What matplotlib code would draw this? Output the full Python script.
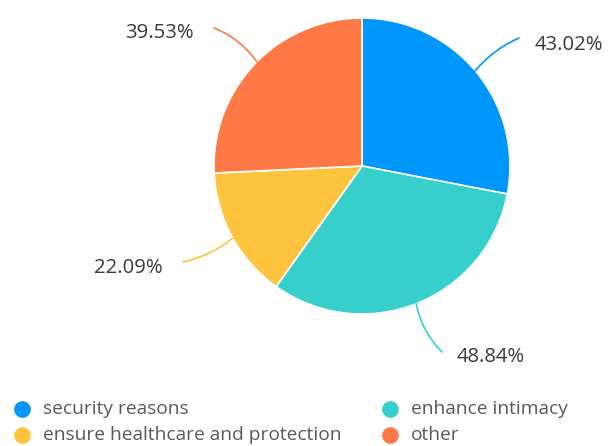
import matplotlib
matplotlib.use("Agg")
import matplotlib.pyplot as plt

categories = ["security reasons", "enhance intimacy", "ensure healthcare and protection", "other"]
values = [43.02, 48.84, 22.09, 39.53]
labels = ["43.02%", "48.84%", "22.09%", "39.53%"]
colors = ["#0096FF", "#36CFCB", "#FFC43D", "#FF7946"]

W, H = 611, 446
fig = plt.figure(figsize=(W / 100, H / 100), dpi=100)
ax = fig.add_axes([0, 0, 1, 1])

def Y(y):
    return H - y

cx, cy, r = 362, 166, 148
ax.pie(values, colors=colors, startangle=90, counterclock=False,
       center=(cx, Y(cy)), radius=r, frame=True,
       wedgeprops=dict(edgecolor="white", linewidth=1.2))
ax.set_xlim(0, W)
ax.set_ylim(0, H)
ax.set_aspect("equal")
ax.axis("off")

font = "Open Sans"
tcolor = "#3a3a3a"
fs = 14.6

# leader lines (pixel coords): start on pie, end, text anchor, alignment, curvature
leaders = [
    ((475, 71), (519, 38), (535, 45), "left", -0.12),
    ((416, 303), (442, 352), (457, 357), "left", 0.15),
    ((233, 238), (183, 262), (163, 268), "right", -0.12),
    ((257, 62), (214, 28), (194, 33), "right", 0.15),
]
for (p0, p1, pt, ha, rad), lab, col in zip(leaders, labels, colors):
    ax.annotate("", xy=(p1[0], Y(p1[1])), xytext=(p0[0], Y(p0[1])),
                arrowprops=dict(arrowstyle="-", color=col, lw=1.2,
                                connectionstyle=f"arc3,rad={rad}",
                                shrinkA=0, shrinkB=0))
    ax.text(pt[0], Y(pt[1]), lab, ha=ha, va="center", fontsize=fs,
            color=tcolor, family=font)

# legend
leg_pos = [(22, 409), (390, 409), (22, 435), (390, 435)]
for (lx, ly), cat, col in zip(leg_pos, categories, colors):
    ax.plot([lx], [Y(ly)], marker="o", markersize=12, color=col,
            markeredgewidth=0)
    ax.text(lx + 21, Y(ly), cat, ha="left", va="center",
            fontsize=13.8, color="#595959", family=font)

fig.savefig("out.png", dpi=100)
